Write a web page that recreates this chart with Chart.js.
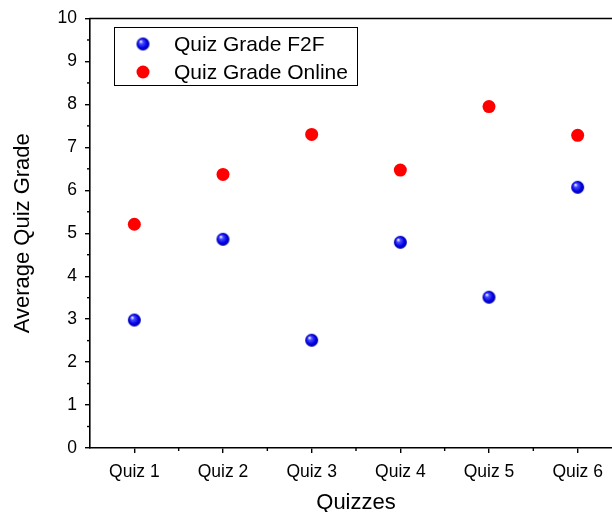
<!DOCTYPE html>
<html>
<head>
<meta charset="utf-8">
<script src="https://cdn.jsdelivr.net/npm/chart.js@4.4.0/dist/chart.umd.min.js"></script>
<style>
html,body{margin:0;padding:0;background:#fff;overflow:hidden;width:612px;height:512px;}
canvas{display:block;}
</style>
</head>
<body>
<canvas id="c" width="640" height="512"></canvas>
<script>
const categories = ["Quiz 1","Quiz 2","Quiz 3","Quiz 4","Quiz 5","Quiz 6"];
const gradeF2F = [2.98, 4.86, 2.51, 4.79, 3.51, 6.07];
const gradeOnline = [5.21, 6.37, 7.30, 6.47, 7.95, 7.28];
const seriesNames = ["Quiz Grade F2F","Quiz Grade Online"];
const yTicks = [0,1,2,3,4,5,6,7,8,9,10];

const FONT = "'Liberation Sans', Arial, sans-serif";

function sphere(r){
  const s = r*2+2;
  const cv = document.createElement('canvas');
  cv.width = s; cv.height = s;
  const g = cv.getContext('2d');
  const cx = s/2, cy = s/2;
  const grd = g.createRadialGradient(cx-r*0.35, cy-r*0.4, 0.5, cx, cy, r);
  grd.addColorStop(0, '#e8e8ff');
  grd.addColorStop(0.25, '#4a4aff');
  grd.addColorStop(0.7, '#0000e6');
  grd.addColorStop(1, '#00009a');
  g.fillStyle = grd;
  g.beginPath(); g.arc(cx, cy, r, 0, Math.PI*2); g.fill();
  return cv;
}
const blueBall = sphere(6.5);

const extras = {
  id: 'extras',
  afterDraw(chart){
    const ctx = chart.ctx;
    const a = chart.chartArea;
    const xs = chart.scales.x, ys = chart.scales.y;
    ctx.save();
    ctx.strokeStyle = '#000';
    ctx.lineWidth = 1.6;
    ctx.beginPath(); ctx.moveTo(a.left-0.8, a.top); ctx.lineTo(a.right, a.top); ctx.stroke();
    ctx.lineWidth = 1.4;
    for (let v = 0.5; v < 10; v += 1){
      const y = ys.getPixelForValue(v);
      ctx.beginPath(); ctx.moveTo(a.left, y); ctx.lineTo(a.left-3, y); ctx.stroke();
    }
    for (let i = 0; i < categories.length; i++){
      const x = xs.getPixelForValue(i + 0.5);
      ctx.beginPath(); ctx.moveTo(x, a.bottom); ctx.lineTo(x, a.bottom+3); ctx.stroke();
    }
    const lx = 114.5, ly = 27.5, lw = 243, lh = 58;
    ctx.lineWidth = 1;
    ctx.strokeStyle = '#000';
    ctx.strokeRect(lx, ly, lw, lh);
    ctx.font = '21px ' + FONT;
    ctx.fillStyle = '#000';
    ctx.textBaseline = 'middle';
    ctx.textAlign = 'left';
    ctx.drawImage(blueBall, 143 - blueBall.width/2, 44 - blueBall.height/2);
    ctx.fillText(seriesNames[0], 174, 45);
    ctx.fillStyle = '#ff0000';
    ctx.beginPath(); ctx.arc(143, 72, 6.5, 0, Math.PI*2); ctx.fill();
    ctx.fillStyle = '#000';
    ctx.fillText(seriesNames[1], 174, 73);
    ctx.restore();
  }
};

new Chart(document.getElementById('c'), {
  type: 'line',
  data: {
    labels: categories,
    datasets: [
      { label: seriesNames[0], data: gradeF2F, showLine: false,
        pointStyle: blueBall, pointRadius: 6.5, pointHoverRadius: 6.5,
        backgroundColor: '#0000ff', borderColor: '#0000ff', borderWidth: 0 },
      { label: seriesNames[1], data: gradeOnline, showLine: false,
        pointStyle: 'circle', pointRadius: 6.5, pointHoverRadius: 6.5,
        backgroundColor: '#ff0000', borderColor: '#ff0000', borderWidth: 0 }
    ]
  },
  options: {
    responsive: false,
    animation: false,
    events: [],
    layout: { padding: { top: 17, right: 18, left: 0, bottom: 0 } },
    plugins: { legend: { display: false }, tooltip: { enabled: false } },
    scales: {
      x: {
        type: 'category',
        offset: true,
        grid: { display: true, drawOnChartArea: false, drawTicks: true, tickLength: 5, color: '#000', lineWidth: 1.4, offset: false },
        border: { display: true, color: '#000', width: 1.6 },
        ticks: { color: '#000', font: { family: FONT, size: 17.5 }, padding: 9, maxRotation: 0 },
        title: { display: true, text: 'Quizzes', color: '#000', font: { family: FONT, size: 22 }, padding: { top: 6, bottom: -4 } },
        afterFit(s){ s.height = 64; }
      },
      y: {
        min: 0, max: 10,
        afterBuildTicks(s){ s.ticks = yTicks.map(v => ({ value: v })); },
        grid: { display: true, drawOnChartArea: false, drawTicks: true, tickLength: 5, color: '#000', lineWidth: 1.4 },
        border: { display: true, color: '#000', width: 1.6 },
        ticks: { color: '#000', font: { family: FONT, size: 17.5 }, padding: 8 },
        title: { display: true, text: 'Average Quiz Grade', color: '#000', font: { family: FONT, size: 22 }, padding: { top: 10, bottom: 4 } },
        afterFit(s){ s.width = 90; }
      }
    }
  },
  plugins: [extras]
});
</script>
</body>
</html>
